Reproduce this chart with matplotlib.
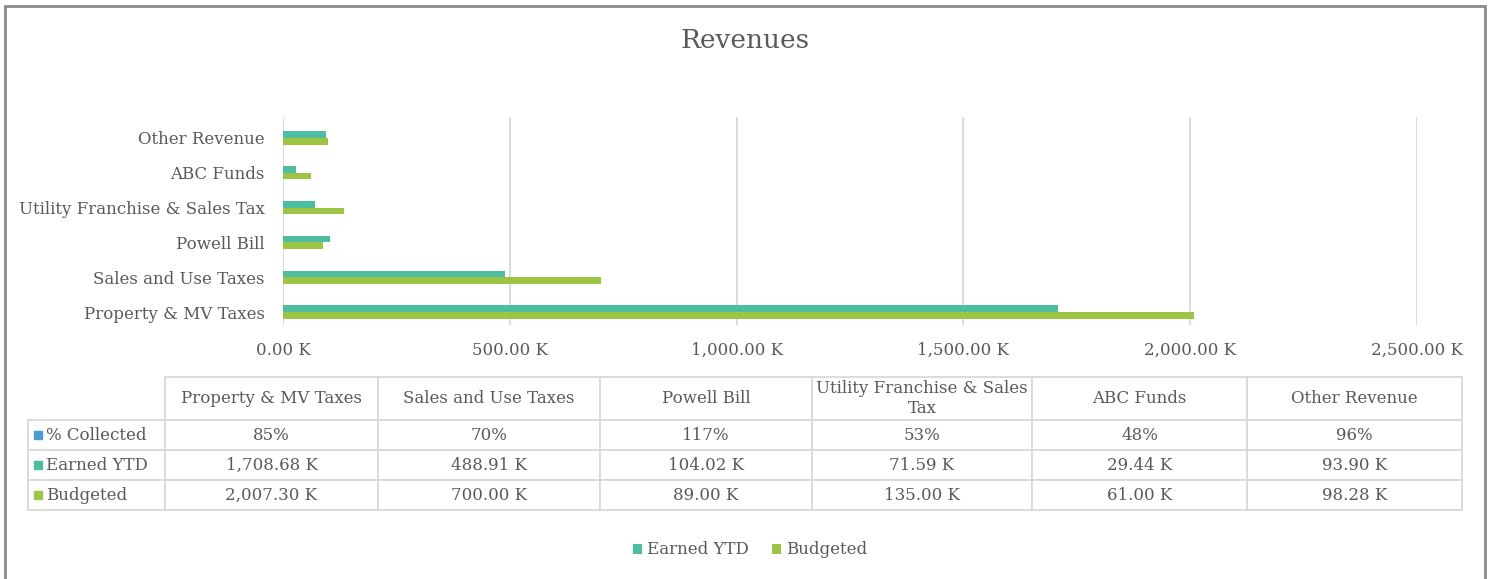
import textwrap

import matplotlib
matplotlib.use("Agg")
import matplotlib.pyplot as plt
import numpy as np
from matplotlib.patches import Patch, Rectangle
from matplotlib.ticker import FuncFormatter

# ----------------------------
# Data
# ----------------------------
categories = ['Property & MV Taxes', 'Sales and Use Taxes', 'Powell Bill',
              'Utility Franchise & Sales Tax', 'ABC Funds', 'Other Revenue']
earned_ytd = [1708.68, 488.91, 104.02, 71.59, 29.44, 93.90]
budgeted = [2007.30, 700.00, 89.00, 135.00, 61.00, 98.28]
pct_collected = [85, 70, 117, 53, 48, 96]
row_names = ['% Collected', 'Earned YTD', 'Budgeted']

# ----------------------------
# Style
# ----------------------------
TEXT = '#595959'
GRID = '#D9D9D9'
C_PCT = '#4A9AD4'
C_EARNED = '#4DBFA0'
C_BUDGET = '#9DC543'
FS = 12

plt.rcParams['font.family'] = ['DejaVu Serif']
plt.rcParams['text.color'] = TEXT

W, H = 1491, 579
fig = plt.figure(figsize=(W / 100, H / 100), dpi=100)

# outer frame
fig.patches.append(Rectangle((5 / W, -0.05), 1480 / W, 1.05 - 6 / H,
                             transform=fig.transFigure, fill=False,
                             edgecolor='#8C8C8C', lw=2))

fig.text(745 / W, 1 - 40 / H, 'Revenues', ha='center', va='center',
         fontsize=19, color=TEXT)

# ----------------------------
# Bars
# ----------------------------
ax = fig.add_axes([283 / W, 1 - 325 / H, (1417 - 283) / W, (325 - 117) / H])
y = np.arange(len(categories))
bh = 0.19
ax.barh(y + bh / 2, earned_ytd, bh, color=C_EARNED, label='Earned YTD', zorder=3)
ax.barh(y - bh / 2, budgeted, bh, color=C_BUDGET, label='Budgeted', zorder=3)

ax.set_xlim(0, 2500)
ax.set_ylim(-0.37, 5.6)
ax.set_xticks(np.arange(0, 2501, 500))
ax.xaxis.set_major_formatter(FuncFormatter(lambda v, p: f'{v:,.2f} K'))
ax.set_yticks(y)
ax.set_yticklabels(categories)
ax.tick_params(axis='x', length=0, pad=12, labelsize=FS, labelcolor=TEXT)
ax.tick_params(axis='y', length=0, pad=13, labelsize=FS, labelcolor=TEXT)
ax.grid(axis='x', color=GRID, lw=1.3, zorder=0)
for s in ax.spines.values():
    s.set_visible(False)

# ----------------------------
# Data table (first column holds the row names)
# ----------------------------
tax = fig.add_axes([28 / W, 1 - 510 / H, (1462 - 28) / W, (510 - 377) / H])
tax.axis('off')

cell_text = [
    [row_names[0]] + [f'{v}%' for v in pct_collected],
    [row_names[1]] + [f'{v:,.2f} K' for v in earned_ytd],
    [row_names[2]] + [f'{v:,.2f} K' for v in budgeted],
]
col_labels = [''] + [textwrap.fill(c, 25) for c in categories]
col_px = [137, 213, 222, 212, 220, 215, 215]
total_px = sum(col_px)

tbl = tax.table(cellText=cell_text, colLabels=col_labels, cellLoc='center',
                colWidths=[c / total_px for c in col_px], bbox=[0, 0, 1, 1])
tbl.auto_set_font_size(False)
tbl.set_fontsize(FS)

for (r, c), cell in tbl.get_celld().items():
    cell.set_edgecolor(GRID)
    cell.set_linewidth(1.3)
    cell.get_text().set_color(TEXT)
    cell.set_height(43 if r == 0 else 30)
    if c == 0:
        cell.get_text().set_ha('left')
        cell._loc = 'left'
        cell.PAD = 18 / col_px[0]
        if r == 0:
            cell.visible_edges = ''

# colour keys for the row labels
for i, col in enumerate([C_PCT, C_EARNED, C_BUDGET]):
    yc = 1 - (435 + 30 * i) / H
    fig.patches.append(Rectangle((34 / W, yc - 4 / H), 8 / W, 8 / H,
                                 transform=fig.transFigure, color=col))

# ----------------------------
# Legend
# ----------------------------
handles = [Patch(facecolor=C_EARNED, label='Earned YTD'),
           Patch(facecolor=C_BUDGET, label='Budgeted')]
fig.legend(handles=handles, loc='center', bbox_to_anchor=(750 / W, 1 - 550 / H),
           ncol=2, frameon=False, fontsize=FS, handlelength=0.55,
           handleheight=0.55, handletextpad=0.3, columnspacing=1.4)

plt.savefig('out.png', dpi=100)
